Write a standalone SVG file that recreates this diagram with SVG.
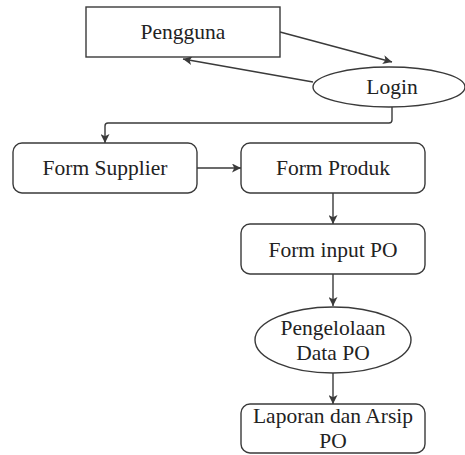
<svg xmlns="http://www.w3.org/2000/svg" width="465" height="455" viewBox="0 0 465 455">
<style>
.n{fill:#fff;stroke:#3a3a3a;stroke-width:1.4}
.t{font-family:"Liberation Serif","Times New Roman",serif;font-size:21.5px;fill:#222;text-anchor:middle}
.c{fill:none;stroke:#3a3a3a;stroke-width:1.4}
</style>
<defs>
<marker id="ah" viewBox="0 0 10 10" refX="10" refY="5" markerWidth="9" markerHeight="9" markerUnits="userSpaceOnUse" orient="auto">
<path d="M0,0 L10,5 L0,10 L2.5,5 z" fill="#3a3a3a"/>
</marker>
</defs>
<rect width="465" height="455" fill="#fff"/>
<g id="connectors">
<line class="c" x1="280" y1="32" x2="392" y2="62" marker-end="url(#ah)"/>
<line class="c" x1="313" y1="82" x2="183" y2="59" marker-end="url(#ah)"/>
<path class="c" d="M392,106 V120 Q392,123 389,123 H108 Q105,123 105,126 V143" marker-end="url(#ah)"/>
<line class="c" x1="197" y1="168" x2="241" y2="168" marker-end="url(#ah)"/>
<line class="c" x1="333" y1="193" x2="333" y2="224" marker-end="url(#ah)"/>
<line class="c" x1="333" y1="274" x2="333" y2="306" marker-end="url(#ah)"/>
<line class="c" x1="333" y1="373" x2="333" y2="404" marker-end="url(#ah)"/>
</g>
<g id="pengguna">
<rect class="n" x="86" y="7" width="194" height="50"/>
<text class="t" x="183" y="39">Pengguna</text>
</g>
<g id="login">
<ellipse class="n" cx="389" cy="87" rx="76" ry="20"/>
<text class="t" x="392" y="94">Login</text>
</g>
<g id="form-supplier">
<rect class="n" x="13" y="143" width="184" height="50" rx="9"/>
<text class="t" x="105" y="175">Form Supplier</text>
</g>
<g id="form-produk">
<rect class="n" x="241" y="143" width="184" height="50" rx="9"/>
<text class="t" x="333" y="175">Form Produk</text>
</g>
<g id="form-input-po">
<rect class="n" x="241" y="224" width="184" height="50" rx="9"/>
<text class="t" x="333" y="257">Form input PO</text>
</g>
<g id="pengelolaan">
<ellipse class="n" cx="333" cy="340" rx="78" ry="33"/>
<text class="t" x="333" y="335">Pengelolaan</text>
<text class="t" x="333" y="360">Data PO</text>
</g>
<g id="laporan">
<rect class="n" x="241" y="404" width="184" height="49" rx="9"/>
<text class="t" x="333" y="423">Laporan dan Arsip</text>
<text class="t" x="333" y="448">PO</text>
</g>
</svg>
